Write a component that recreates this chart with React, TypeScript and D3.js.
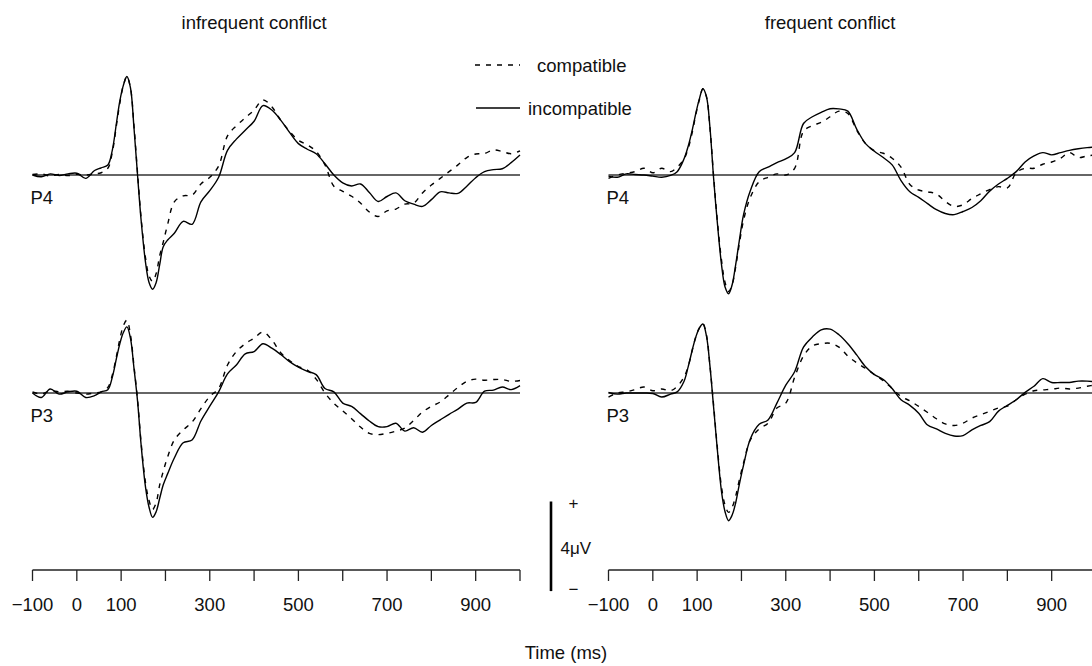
import { useEffect } from "react";
import * as d3 from "d3";

// time points (ms) shared by every waveform
const times = [
  -100, -80, -60, -40, -20, 0, 20, 40,
  55, 70, 80, 90,
  97, 105, 113, 121, 129, 137, 145,
  155, 163, 171, 179, 187, 195,
  205,
  220, 240, 260, 280, 300, 320, 340, 360, 380,
  400, 420, 440, 460, 480, 500, 520, 540, 560,
  580, 600, 620, 640, 660, 680, 700, 720, 740,
  760, 780, 800, 820, 840, 860, 880, 900, 920,
  940, 960, 980, 1000,
];

// amplitudes in microvolts
const p4InfreqIncomp = [
  0, -0.08, 0.05, -0.02, 0.05, 0.08, -0.15, 0.2,
  0.32, 0.45, 1.1, 2.4,
  3.3, 4.0, 4.4, 3.9, 2.1, 0.0, -2.0,
  -3.9, -4.8, -5.1, -4.8, -4.0, -3.2,
  -2.9,
  -2.6, -2.07, -2.2, -1.2, -0.7, -0.1, 1.1, 1.6, 2.0,
  2.4, 3.1, 2.9, 2.45, 1.9, 1.4, 1.15, 0.95, 0.5,
  0.0, -0.35, -0.49, -0.4, -0.78, -1.18, -0.96, -0.8, -1.15,
  -1.3, -1.4, -1.1, -0.75, -0.8, -0.82, -0.5, -0.12, 0.15,
  0.24, 0.28, 0.55, 0.89,
];
const p4InfreqComp = [
  0.02, 0.05, -0.05, 0.03, -0.03, 0.03, 0.0, 0.05,
  0.1, 0.3, 1.0, 2.3,
  3.2, 4.0, 4.4, 3.9, 2.2, 0.1, -1.9,
  -3.7, -4.5, -4.75, -4.4, -3.6, -3.0,
  -2.2,
  -1.2, -0.93, -0.9, -0.4, -0.1, 0.4, 1.75, 2.2, 2.55,
  2.9, 3.35, 3.05, 2.45, 1.95, 1.55, 1.35, 1.05, 0.45,
  -0.5, -0.73, -0.95, -1.25, -1.65, -1.85, -1.6, -1.52, -1.3,
  -1.26, -0.8, -0.45, -0.15, 0.15, 0.45, 0.78, 0.94, 0.96,
  1.12, 1.05, 0.95, 1.08,
];
const p3InfreqIncomp = [
  0, -0.2, 0.18, -0.05, 0.05, 0.08, -0.2, -0.12,
  0.05, 0.15, 0.7, 1.6,
  2.2, 2.7, 2.95, 2.45, 1.1, -0.35, -2.3,
  -4.2, -5.1, -5.55, -5.3, -4.7, -4.1,
  -3.6,
  -2.9, -2.22, -2.1, -1.25, -0.59, 0.05, 0.85, 1.25, 1.75,
  1.85, 2.2, 2.0, 1.72, 1.4, 1.15, 0.97, 0.82, 0.2,
  0.05, -0.45, -0.6, -0.92, -1.25, -1.5, -1.5, -1.35, -1.7,
  -1.55, -1.75, -1.45, -1.2, -0.95, -0.72, -0.45, -0.42, 0.08,
  0.13, 0.27, 0.15, 0.33,
];
const p3InfreqComp = [
  0.05, -0.05, 0.1, 0.05, 0.08, 0.0, -0.05, 0.0,
  0.05, 0.25, 0.8, 1.7,
  2.4, 3.0, 3.25, 2.6, 1.2, -0.3, -2.2,
  -4.0, -4.8, -5.2, -4.9, -4.1, -3.5,
  -2.85,
  -2.1, -1.65, -1.3, -0.7, -0.15, 0.2, 1.25, 1.85, 2.2,
  2.45, 2.72, 2.37, 1.8, 1.45, 1.18, 1.02, 0.62, 0.0,
  -0.46, -0.8, -1.15, -1.52, -1.8, -1.86, -1.8, -1.7, -1.57,
  -1.23, -0.85, -0.6, -0.4, -0.08, 0.25, 0.52, 0.62, 0.57,
  0.6, 0.6, 0.52, 0.56,
];
const p4FreqIncomp = [
  -0.05, -0.1, 0.05, 0.02, 0.0, -0.05, -0.1, -0.02,
  0.15, 0.7, 1.3, 2.1,
  2.75, 3.4, 3.85, 3.5, 2.1, -0.1, -2.0,
  -4.0, -5.0, -5.3, -4.9, -4.0, -2.95,
  -1.75,
  -0.7, 0.15, 0.35, 0.55, 0.72, 1.0, 2.3, 2.6, 2.8,
  2.96, 2.95, 2.85, 2.05, 1.4, 1.06, 0.78, 0.45, -0.25,
  -0.75, -1.0, -1.28, -1.55, -1.72, -1.77, -1.63, -1.45, -1.15,
  -0.72, -0.4, -0.15, 0.15, 0.58, 0.85, 1.0, 0.9, 1.0,
  1.1, 1.17, 1.22, 1.25,
];
const p4FreqComp = [
  -0.15, 0.0, 0.08, 0.15, 0.3, 0.1, 0.3, 0.15,
  0.35, 0.7, 1.2, 2.0,
  2.7, 3.35, 3.85, 3.5, 2.1, 0.0, -1.9,
  -3.8, -4.8, -5.2, -4.9, -4.1, -3.1,
  -2.0,
  -1.0, -0.3, -0.1, 0.05, 0.0, 0.3, 1.95, 2.2, 2.35,
  2.6, 2.85, 2.75, 2.0, 1.4, 1.08, 0.97, 0.75, 0.35,
  -0.42, -0.67, -0.75, -0.85, -1.18, -1.4, -1.33, -1.05, -0.84,
  -0.65, -0.52, -0.58, 0.1, 0.3, 0.3, 0.48, 0.58, 0.75,
  1.0, 0.78, 0.85, 0.9,
];
const p3FreqIncomp = [
  0.02, -0.05, 0.0, 0.0, 0.0, -0.02, -0.18, -0.05,
  0.05, 0.5, 1.19, 2.0,
  2.5, 2.9, 3.08, 2.55, 1.19, -0.6, -2.4,
  -4.4, -5.3, -5.7, -5.45, -4.9, -4.1,
  -3.2,
  -2.05, -1.4, -1.2, -0.45, 0.35, 0.95, 2.05, 2.5, 2.82,
  2.85, 2.6, 2.2, 1.7, 1.17, 0.82, 0.6, 0.2, -0.3,
  -0.55, -0.9, -1.43, -1.6, -1.8, -1.92, -1.9, -1.65, -1.45,
  -1.28, -0.81, -0.55, -0.3, 0.03, 0.3, 0.64, 0.47, 0.47,
  0.47, 0.53, 0.53, 0.5,
];
const p3FreqComp = [
  -0.18, 0.0, 0.05, 0.15, 0.27, 0.1, 0.18, 0.1,
  0.3, 0.7, 1.2, 2.0,
  2.5, 2.9, 3.1, 2.6, 1.2, -0.5, -2.3,
  -4.2, -5.0, -5.33, -5.1, -4.6, -3.9,
  -3.1,
  -2.1, -1.6, -1.35, -0.67, -0.45, 0.7, 1.65, 2.1, 2.2,
  2.22, 2.05, 1.65, 1.35, 1.1, 0.82, 0.55, 0.2, -0.15,
  -0.35, -0.6, -0.87, -1.15, -1.38, -1.45, -1.35, -1.12, -0.97,
  -0.82, -0.67, -0.59, -0.3, -0.05, 0.1, 0.14, 0.17, 0.22,
  0.18, 0.22, 0.3, 0.37,
];

const titles = ["infrequent conflict", "frequent conflict"];
const channels = ["P4", "P3"];
const legendLabels = ["compatible", "incompatible"];
const tickValues = [-100, 0, 100, 200, 300, 400, 500, 600, 700, 800, 900, 1000];
const tickLabels = [-100, 0, 100, 300, 500, 700, 900];
const scaleBarUv = 4;

const W = 1092;
const H = 666;
const FONT = "'Liberation Sans', Arial, Helvetica, sans-serif";
const FS = 18.5;
const colLeft = [32.5, 608.5];
const colWidth = 487.5;
const rowZero = [175, 393];
const pxPerUv = 22.4;
const axisY = 570;
const DASH = "5,6";

const panels = [
  { col: 0, row: 0, comp: p4InfreqComp, incomp: p4InfreqIncomp },
  { col: 0, row: 1, comp: p3InfreqComp, incomp: p3InfreqIncomp },
  { col: 1, row: 0, comp: p4FreqComp, incomp: p4FreqIncomp },
  { col: 1, row: 1, comp: p3FreqComp, incomp: p3FreqIncomp },
];

const fmt = (v: number) => (v < 0 ? "\u2212" + Math.abs(v) : String(v));

export default function App() {
  useEffect(() => {
    document.body.style.margin = "0";
  }, []);

  const xScales = colLeft.map((l) => d3.scaleLinear().domain([-100, 1000]).range([l, l + colWidth]));
  const yScales = rowZero.map((z) => d3.scaleLinear().domain([-1, 1]).range([z + pxPerUv, z - pxPerUv]));
  const uv = d3.scaleLinear().domain([0, scaleBarUv]).range([0, scaleBarUv * pxPerUv]);

  const lineFor = (col: number, row: number) =>
    d3
      .line<number>()
      .x((_, i) => xScales[col](times[i]))
      .y((d) => yScales[row](d))
      .curve(d3.curveCatmullRom.alpha(0.5));

  const barX = 551;
  const barTop = 501.5;

  return (
    <svg width={W} height={H} style={{ display: "block", background: "#fff" }} fontFamily={FONT}>
      {titles.map((t, c) => (
        <text key={t} x={xScales[c](400)} y={28.5} textAnchor="middle" fontSize={FS} fill="#111">
          {t}
        </text>
      ))}

      {panels.map((p) => {
        const x = xScales[p.col];
        const y = yScales[p.row];
        const line = lineFor(p.col, p.row);
        return (
          <g key={`${p.col}-${p.row}`}>
            <line x1={x(-100)} x2={x(1000)} y1={y(0)} y2={y(0)} stroke="#333" strokeWidth={1.5} />
            <text x={x(-100) - 2} y={y(0) + 29} fontSize={FS} fill="#111">
              {channels[p.row]}
            </text>
            <path d={line(p.comp) ?? ""} fill="none" stroke="#000" strokeWidth={1.4} strokeDasharray={DASH} />
            <path d={line(p.incomp) ?? ""} fill="none" stroke="#000" strokeWidth={1.4} />
          </g>
        );
      })}

      {xScales.map((x, c) => (
        <g key={`axis-${c}`}>
          <line x1={x(-100)} x2={x(1000)} y1={axisY} y2={axisY} stroke="#222" strokeWidth={1.3} />
          {tickValues.map((t) => (
            <line key={t} x1={x(t)} x2={x(t)} y1={axisY} y2={axisY + 11} stroke="#222" strokeWidth={1.3} />
          ))}
          {tickLabels.map((t) => (
            <text key={t} x={x(t)} y={axisY + 41} textAnchor="middle" fontSize={FS} fill="#111">
              {fmt(t)}
            </text>
          ))}
        </g>
      ))}

      <text x={566} y={659} textAnchor="middle" fontSize={FS} fill="#111">
        Time (ms)
      </text>

      {/* legend */}
      <line x1={475} x2={520} y1={65} y2={65} stroke="#000" strokeWidth={1.4} strokeDasharray={DASH} />
      <text x={537} y={72} fontSize={FS} fill="#111">
        {legendLabels[0]}
      </text>
      <line x1={476} x2={520} y1={108} y2={108} stroke="#000" strokeWidth={1.4} />
      <text x={528} y={114.5} fontSize={FS} fill="#111">
        {legendLabels[1]}
      </text>

      {/* amplitude scale bar */}
      <line x1={barX} x2={barX} y1={barTop} y2={barTop + uv(scaleBarUv)} stroke="#000" strokeWidth={2.6} />
      <text x={573.5} y={barTop + 7.5} textAnchor="middle" fontSize={17} fill="#111">
        +
      </text>
      <text x={573.5} y={barTop + uv(scaleBarUv) + 4} textAnchor="middle" fontSize={17} fill="#111">
        {"\u2212"}
      </text>
      <text x={560.5} y={barTop + uv(scaleBarUv / 2) + 8} fontSize={17} fill="#111">
        {`${scaleBarUv}\u03bcV`}
      </text>
    </svg>
  );
}
